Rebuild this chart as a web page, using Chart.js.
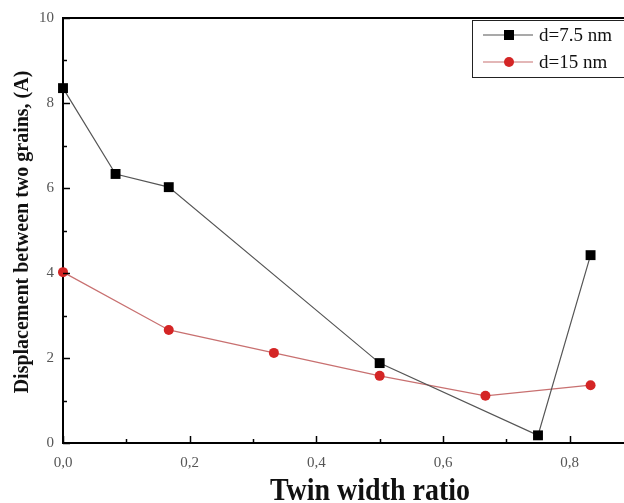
<!DOCTYPE html>
<html>
<head>
<meta charset="utf-8">
<script src="https://cdn.jsdelivr.net/npm/chart.js@4.4.0/dist/chart.umd.min.js"></script>
<style>
  html, body { margin: 0; padding: 0; background: #fff; overflow: hidden; }
  #wrap { width: 640px; height: 503px; position: relative; }
</style>
</head>
<body>
<div id="wrap"><canvas id="twinChart"></canvas></div>
<script>
// values
const xSmall = [0, 0.083, 0.167, 0.5, 0.75, 0.833];
const ySmall = [8.35, 6.33, 6.02, 1.88, 0.18, 4.42];
const xLarge = [0, 0.167, 0.333, 0.5, 0.667, 0.833];
const yLarge = [4.02, 2.66, 2.12, 1.58, 1.11, 1.36];
const seriesNames = ["d=7.5 nm", "d=15 nm"];
const xTicks = [0, 0.2, 0.4, 0.6, 0.8];
const yTicks = [0, 2, 4, 6, 8, 10];
const xTitle = "Twin width ratio";
const yTitle = "Displacement between two grains, (A)";

const FONT = "'Liberation Serif', 'Times New Roman', serif";

function toPoints(xs, ys) {
  return xs.map((x, i) => ({ x: x, y: ys[i] }));
}

// inward tick marks + top frame line
const frameTicks = {
  id: "frameTicks",
  afterDraw(chart) {
    const { ctx, chartArea, scales } = chart;
    const { left, right, top, bottom } = chartArea;
    ctx.save();
    ctx.strokeStyle = "#000";
    ctx.lineWidth = 2;
    ctx.beginPath();
    ctx.moveTo(left - 1, top);
    ctx.lineTo(right, top);
    ctx.stroke();

    ctx.lineWidth = 1.5;
    for (let v = 0; v <= 0.9001; v += 0.1) {
      const px = Math.round(scales.x.getPixelForValue(v)) + 0.5;
      const len = Math.round(v * 10) % 2 === 0 ? 7 : 4;
      ctx.beginPath();
      ctx.moveTo(px, bottom);
      ctx.lineTo(px, bottom - len);
      ctx.stroke();
    }
    for (let v = 0; v <= 10; v += 1) {
      const py = Math.round(scales.y.getPixelForValue(v)) + 0.5;
      const len = v % 2 === 0 ? 7 : 4;
      ctx.beginPath();
      ctx.moveTo(left, py);
      ctx.lineTo(left + len, py);
      ctx.stroke();
    }
    ctx.restore();
  },
};

// axis titles, drawn by hand so they sit where the original puts them
const axisTitles = {
  id: "axisTitles",
  afterDraw(chart) {
    const { ctx } = chart;
    ctx.save();
    ctx.fillStyle = "#111";
    ctx.textAlign = "center";

    ctx.font = "bold 32px " + FONT;
    const w = ctx.measureText(xTitle).width;
    ctx.save();
    ctx.translate(370, 500);
    ctx.scale(200 / w, 1);
    ctx.textBaseline = "alphabetic";
    ctx.fillText(xTitle, 0, 0);
    ctx.restore();

    ctx.font = "bold 20px " + FONT;
    ctx.translate(23, 232);
    ctx.rotate(-Math.PI / 2);
    ctx.textBaseline = "middle";
    ctx.fillText(yTitle, 0, 0);
    ctx.restore();
  },
};

// legend box in the top right corner
const boxLegend = {
  id: "boxLegend",
  afterDraw(chart) {
    const { ctx } = chart;
    const x0 = 472, y0 = 20, y1 = 77;
    ctx.save();
    ctx.fillStyle = "#fff";
    ctx.fillRect(x0, y0, 200, y1 - y0);
    ctx.strokeStyle = "#222";
    ctx.lineWidth = 1;
    ctx.strokeRect(x0 + 0.5, y0 + 0.5, 200, y1 - y0);
    const rows = [
      { y: 35, line: "#555", fill: "#000", square: true },
      { y: 62, line: "#c87070", fill: "#d42525", square: false },
    ];
    rows.forEach((r, i) => {
      ctx.strokeStyle = r.line;
      ctx.lineWidth = 1.2;
      ctx.beginPath();
      ctx.moveTo(483, r.y);
      ctx.lineTo(533, r.y);
      ctx.stroke();
      ctx.fillStyle = r.fill;
      if (r.square) {
        ctx.fillRect(504, r.y - 5, 10, 10);
      } else {
        ctx.beginPath();
        ctx.arc(509, r.y, 5, 0, Math.PI * 2);
        ctx.fill();
      }
      ctx.fillStyle = "#111";
      ctx.font = "19px " + FONT;
      ctx.textBaseline = "middle";
      ctx.fillText(seriesNames[i], 539, r.y + 1);
    });
    ctx.restore();
  },
};

document.addEventListener("DOMContentLoaded", () => {
  const ctx = document.getElementById("twinChart").getContext("2d");

  new Chart(ctx, {
    type: "line",
    data: {
      datasets: [
        {
          label: seriesNames[0],
          data: toPoints(xSmall, ySmall),
          borderColor: "#555",
          borderWidth: 1.2,
          pointStyle: "rect",
          pointRadius: 7,
          pointBackgroundColor: "#000",
          pointBorderWidth: 0,
          tension: 0,
          clip: false,
        },
        {
          label: seriesNames[1],
          data: toPoints(xLarge, yLarge),
          borderColor: "#c87070",
          borderWidth: 1.2,
          pointStyle: "circle",
          pointRadius: 5,
          pointBackgroundColor: "#d42525",
          pointBorderWidth: 0,
          tension: 0,
          clip: false,
        },
      ],
    },
    options: {
      responsive: true,
      maintainAspectRatio: false,
      animation: false,
      layout: { padding: { top: 18, right: 6, left: 0, bottom: 0 } },
      plugins: {
        legend: { display: false },
        tooltip: { enabled: false },
      },
      scales: {
        x: {
          type: "linear",
          min: 0,
          max: 0.9,
          afterFit: (s) => { s.height = 60; },
          afterBuildTicks: (s) => { s.ticks = xTicks.map((v) => ({ value: v })); },
          grid: { drawOnChartArea: false, drawTicks: false },
          border: { display: true, color: "#000", width: 2 },
          ticks: {
            padding: 11,
            color: "#555",
            font: { family: FONT, size: 15 },
            callback: (v) => v.toFixed(1).replace(".", ","),
          },
        },
        y: {
          min: 0,
          max: 10,
          afterFit: (s) => { s.width = 63; },
          afterBuildTicks: (s) => { s.ticks = yTicks.map((v) => ({ value: v })); },
          grid: { drawOnChartArea: false, drawTicks: false },
          border: { display: true, color: "#000", width: 2 },
          ticks: {
            padding: 9,
            color: "#555",
            font: { family: FONT, size: 15 },
          },
        },
      },
    },
    plugins: [frameTicks, axisTitles, boxLegend],
  });
});
</script>
</body>
</html>
